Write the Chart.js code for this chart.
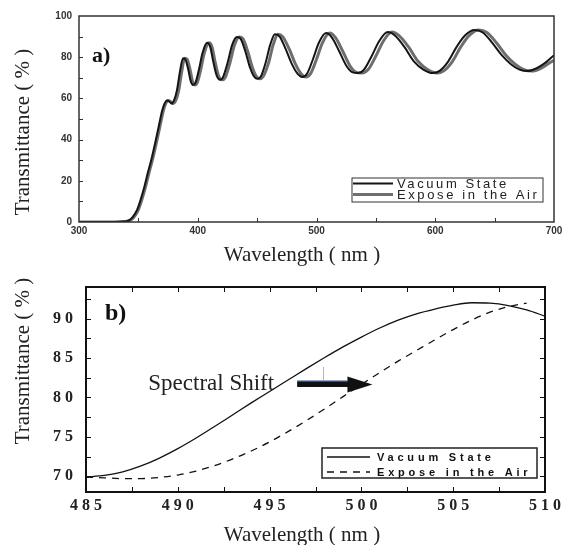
<!DOCTYPE html>
<html lang="en">
<head>
<meta charset="UTF-8" />
<title>Transmittance | Vacuum vs Air</title>
<script src="https://cdn.jsdelivr.net/npm/chart.js"></script>
<style>
  html, body { margin: 0; padding: 0; background: #fff; }
  .panel { position: absolute; left: 0; width: 576px; }
  #panelA { top: 0; height: 272px; }
  #panelB { top: 272px; height: 273px; }
</style>
</head>
<body>

<!-- a) full spectrum -->
<div id="panelA" class="panel"><canvas id="chartA"></canvas></div>
<!-- b) close-up around 500 nm -->
<div id="panelB" class="panel"><canvas id="chartB"></canvas></div>

<script>
const seriesNames = ['Vacuum State', 'Expose in the Air'];

// a) 300-700 nm
const wlVacuumA = [300,330,338,342,345,349,352,355,358,361,364,367,370,372,374,376,378,380,382.5,385,
  387.6,389.5,392,394,396,398,401,404,407.8,410.5,413,416,418.7,421,425,429,433,436,440,444,
  447,450,453,457,461,465,469,474,479,484,488,492,497,502,508,513,519,525,530,535,
  540,546,553,560,566,574,582,590,598,604,611,618,625,633,640,648,656,664,671,678,685,692,700];
const tVacuumA = [0,0,0.2,0.8,2.2,6,11,17,24,30.5,38,46,54,57.5,59,58.5,57.5,59,64,73,
  79.5,79,74,68.5,66.5,67.5,74,82,87,85,78,71,69,70,77,86,89.8,89,83,75,
  71,69.5,70.5,77,86,91.2,90,84,77,72,70.4,72,79,87,91.7,89.5,83,76,72.8,72.3,
  74,80,88,92.2,90.5,85,78,74,72.3,73.5,78,85,90.5,93.2,92,87,81,76.5,74,73.3,74.5,77,81];
const wlAirA = [300,331,339,343,346,350,353,356,359,362,365,368,371,373,375,377,379,381.5,384,386.5,
  389,391,393.5,395.5,397.5,399.5,402.5,405.5,409.5,412,414.5,417.5,420.5,423,427,431,435,438,442,446,
  449,452,455,459.5,463.5,467.5,471.5,477,482,487,491,495,500,505,511,516,522,528,533,538,
  543.5,549.5,556.5,563.5,569.5,577.5,585.5,593.5,601.5,607.5,614.5,621.5,628.5,636.5,643.5,651.5,659.5,667.5,674.5,681.5,688.5,695.5,700];
const tAirA = [0,0,0.2,0.8,2.2,6,11,17,24,30.5,38,46,54,57.5,59,58.5,57.5,59,64,73,
  79.5,79,74,68.5,66.5,67.5,74,82,87,85,78,71,69,70,77,86,89.8,89,83,75,
  71,69.5,70.5,77,86,91.2,90,84,77,72,70.4,72,79,87,91.7,89.5,83,76,72.8,72.3,
  74,80,88,92.2,90.5,85,78,74,72.3,73.5,78,85,90.5,93.2,92,87,81,76.5,74,73.3,74.5,77,78.5];
const xTicksA = [300, 400, 500, 600, 700];
const yTicksA = [0, 20, 40, 60, 80, 100];

// b) 485-510 nm
const wlVacuumB = [485,486,487,488,489,490,491,492,493,494,495,496,497,498,499,500,501,502,503,504,505,506,507,508,509,510];
const tVacuumB = [69.9,70.1,70.55,71.3,72.3,73.5,74.85,76.3,77.8,79.3,80.75,82.2,83.65,85.05,86.4,87.65,88.8,89.8,90.6,91.2,91.7,92.0,91.95,91.65,91.1,90.3];
const wlAirB = [485,486,487,488,489,490,491,492,493,494,495,496,497,498,499,500,501,502,503,504,505,506,507,508,509];
const tAirB = [69.9,69.8,69.7,69.7,69.85,70.15,70.65,71.35,72.2,73.2,74.35,75.65,77.05,78.55,80.1,81.65,83.15,84.6,85.95,87.3,88.6,89.8,90.8,91.5,91.95];
const xTicksB = [485, 490, 495, 500, 505, 510];
const yTicksB = [70, 75, 80, 85, 90];

// arrow marking the shift (wavelength from/to, transmittance level)
const shiftArrow = { from: 496.5, to: 500.6, at: 81.7 };

const toPoints = (xs, ys) => xs.map((v, i) => ({ x: v, y: ys[i] }));
const spaced = v => String(v).split('').join(' ');

// frame, inward ticks, titles, panel tag and legend
const panelDecor = {
  id: 'panelDecor',
  afterDraw(chart, args, o) {
    const { ctx, chartArea: a, scales: { x, y } } = chart;
    ctx.save();
    ctx.strokeStyle = o.frameColor;
    ctx.lineWidth = o.frameWidth;
    ctx.strokeRect(a.left, a.top, a.right - a.left, a.bottom - a.top);

    ctx.lineWidth = 1;
    ctx.beginPath();
    for (let v = x.min + o.xStep; v < x.max - 1e-6; v += o.xStep) {
      const px = Math.round(x.getPixelForValue(v)) + 0.5;
      ctx.moveTo(px, a.bottom); ctx.lineTo(px, a.bottom - o.tickLen);
      if (o.mirror) { ctx.moveTo(px, a.top); ctx.lineTo(px, a.top + o.tickLen); }
    }
    for (let v = o.yFirst; v < y.max - 1e-6; v += o.yStep) {
      const py = Math.round(y.getPixelForValue(v)) + 0.5;
      ctx.moveTo(a.left, py); ctx.lineTo(a.left + o.tickLen, py);
      if (o.mirror) { ctx.moveTo(a.right, py); ctx.lineTo(a.right - o.tickLen, py); }
    }
    ctx.stroke();

    // axis titles
    ctx.fillStyle = '#222';
    ctx.font = o.titleFont;
    ctx.textAlign = 'center';
    ctx.textBaseline = 'middle';
    ctx.fillText(o.xTitle, o.xTitlePos[0], o.xTitlePos[1]);
    ctx.save();
    ctx.translate(o.yTitlePos[0], o.yTitlePos[1]);
    ctx.rotate(-Math.PI / 2);
    ctx.fillText(o.yTitle, 0, 0);
    ctx.restore();

    // panel tag
    ctx.fillStyle = '#111';
    ctx.font = o.tagFont;
    ctx.textAlign = 'left';
    ctx.textBaseline = 'alphabetic';
    ctx.fillText(o.tag, o.tagPos[0], o.tagPos[1]);

    // legend
    const L = o.legend;
    ctx.strokeStyle = L.boxColor;
    ctx.lineWidth = L.boxWidth;
    ctx.strokeRect(L.box[0], L.box[1], L.box[2], L.box[3]);
    chart.data.datasets.forEach((ds, i) => {
      const ly = L.rows[i];
      ctx.beginPath();
      ctx.setLineDash(L.dash[i]);
      ctx.strokeStyle = ds.borderColor;
      ctx.lineWidth = ds.borderWidth;
      ctx.moveTo(L.line[0], ly);
      ctx.lineTo(L.line[1], ly);
      ctx.stroke();
      ctx.setLineDash([]);
      ctx.font = L.font;
      ctx.letterSpacing = L.spacing;
      ctx.fillStyle = L.color;
      ctx.textBaseline = 'middle';
      ctx.fillText(ds.label, L.textX, ly + 0.5);
      ctx.letterSpacing = '0px';
    });

    if (o.extra) o.extra(chart);
    ctx.restore();
  }
};

// keep the layout padding in charge of the plot area edges
const noLabelPadding = s => { s.paddingTop = 0; s.paddingBottom = 0; };

const baseLine = { pointRadius: 0, cubicInterpolationMode: 'monotone', fill: false };

new Chart(document.getElementById('chartA'), {
  type: 'line',
  data: {
    datasets: [
      { ...baseLine, label: seriesNames[0], data: toPoints(wlVacuumA, tVacuumA), borderColor: '#151515', borderWidth: 2 },
      { ...baseLine, label: seriesNames[1], data: toPoints(wlAirA, tAirA), borderColor: '#6e6e6e', borderWidth: 3 }
    ]
  },
  options: {
    responsive: true,
    maintainAspectRatio: false,
    animation: false,
    layout: { padding: { left: 0, right: 22, top: 16, bottom: 0 } },
    plugins: {
      legend: { display: false },
      tooltip: { enabled: false },
      panelDecor: {
        frameColor: '#333', frameWidth: 1.5, tickLen: 4,
        xStep: 50, yFirst: 10, yStep: 10, mirror: false,
        titleFont: '21px "Liberation Serif"',
        xTitle: 'Wavelength ( nm )', xTitlePos: [302, 255],
        yTitle: 'Transmittance ( % )', yTitlePos: [23, 132],
        tag: 'a)', tagFont: 'bold 22px "Liberation Serif"', tagPos: [92, 62],
        legend: {
          box: [352, 178, 191, 24], boxColor: '#333', boxWidth: 1,
          line: [353, 393], rows: [183.5, 194.5], dash: [[], []],
          textX: 397, font: '13px "Liberation Sans"', spacing: '2.6px', color: '#222'
        }
      }
    },
    scales: {
      x: {
        type: 'linear', min: 300, max: 700,
        grid: { display: false, drawTicks: false },
        border: { display: false },
        afterBuildTicks: s => { s.ticks = xTicksA.map(v => ({ value: v })); },
        afterFit: s => { s.height = 50; },
        ticks: { padding: 3, autoSkip: false, maxRotation: 0, color: '#333',
                 font: { family: 'Liberation Sans', size: 10, weight: 'bold' } }
      },
      y: {
        min: 0, max: 100,
        grid: { display: false, drawTicks: false },
        border: { display: false },
        afterBuildTicks: s => { s.ticks = yTicksA.map(v => ({ value: v })); },
        afterFit: s => { s.width = 79; noLabelPadding(s); },
        ticks: { padding: 7, color: '#333',
                 font: { family: 'Liberation Sans', size: 10, weight: 'bold' } }
      }
    }
  },
  plugins: [panelDecor]
});

new Chart(document.getElementById('chartB'), {
  type: 'line',
  data: {
    datasets: [
      { ...baseLine, label: seriesNames[0], data: toPoints(wlVacuumB, tVacuumB), borderColor: '#111', borderWidth: 1.3 },
      { ...baseLine, label: seriesNames[1], data: toPoints(wlAirB, tAirB), borderColor: '#111', borderWidth: 1.3, borderDash: [7, 6] }
    ]
  },
  options: {
    responsive: true,
    maintainAspectRatio: false,
    animation: false,
    layout: { padding: { left: 0, right: 31, top: 15, bottom: 0 } },
    plugins: {
      legend: { display: false },
      tooltip: { enabled: false },
      panelDecor: {
        frameColor: '#111', frameWidth: 2, tickLen: 5,
        xStep: 2.5, yFirst: 70, yStep: 2.5, mirror: true,
        titleFont: '21px "Liberation Serif"',
        xTitle: 'Wavelength ( nm )', xTitlePos: [302, 263],
        yTitle: 'Transmittance ( % )', yTitlePos: [23, 89],
        tag: 'b)', tagFont: 'bold 24px "Liberation Serif"', tagPos: [105, 48],
        legend: {
          box: [322, 176, 215, 30], boxColor: '#222', boxWidth: 1.5,
          line: [327, 370], rows: [185, 200], dash: [[], [7, 6]],
          textX: 377, font: 'bold 11px "Liberation Sans"', spacing: '3.8px', color: '#111'
        },
        extra(chart) {
          const { ctx, scales: { x, y } } = chart;
          const x0 = x.getPixelForValue(shiftArrow.from);
          const x1 = x.getPixelForValue(shiftArrow.to);
          const yy = y.getPixelForValue(shiftArrow.at);
          const head = 25;
          // shaft with a thin blue top edge
          ctx.fillStyle = '#111';
          ctx.fillRect(x0, yy - 2.5, x1 - head - x0 + 2, 5.5);
          ctx.strokeStyle = '#2d4e9e';
          ctx.lineWidth = 1.5;
          ctx.beginPath();
          ctx.moveTo(x0, yy - 2.8); ctx.lineTo(x1 - head, yy - 2.8);
          ctx.stroke();
          // faint marker above the shaft
          ctx.strokeStyle = '#a9b6d6';
          ctx.lineWidth = 1;
          ctx.beginPath();
          const xm = Math.round(x.getPixelForValue(497.9)) + 0.5;
          ctx.moveTo(xm, yy - 17); ctx.lineTo(xm, yy - 4);
          ctx.stroke();
          // head
          ctx.fillStyle = '#111';
          ctx.beginPath();
          ctx.moveTo(x1 - head, yy - 7.5);
          ctx.lineTo(x1, yy + 0.5);
          ctx.lineTo(x1 - head, yy + 8.5);
          ctx.closePath();
          ctx.fill();
          // label
          ctx.fillStyle = '#222';
          ctx.font = '23px "Liberation Serif"';
          ctx.textAlign = 'right';
          ctx.textBaseline = 'alphabetic';
          ctx.fillText('Spectral Shift', x0 - 23, yy + 6);
        }
      }
    },
    scales: {
      x: {
        type: 'linear', min: 485, max: 510,
        grid: { display: false, drawTicks: false },
        border: { display: false },
        afterBuildTicks: s => { s.ticks = xTicksB.map(v => ({ value: v })); },
        afterFit: s => { s.height = 53; },
        ticks: { padding: 4, autoSkip: false, maxRotation: 0, color: '#222', callback: spaced,
                 font: { family: 'Liberation Serif', size: 16, weight: 'bold' } }
      },
      y: {
        min: 68, max: 94,
        grid: { display: false, drawTicks: false },
        border: { display: false },
        afterBuildTicks: s => { s.ticks = yTicksB.map(v => ({ value: v })); },
        afterFit: s => { s.width = 86; noLabelPadding(s); },
        ticks: { padding: 13, color: '#222', callback: spaced,
                 font: { family: 'Liberation Serif', size: 16, weight: 'bold' } }
      }
    }
  },
  plugins: [panelDecor]
});
</script>
</body>
</html>
